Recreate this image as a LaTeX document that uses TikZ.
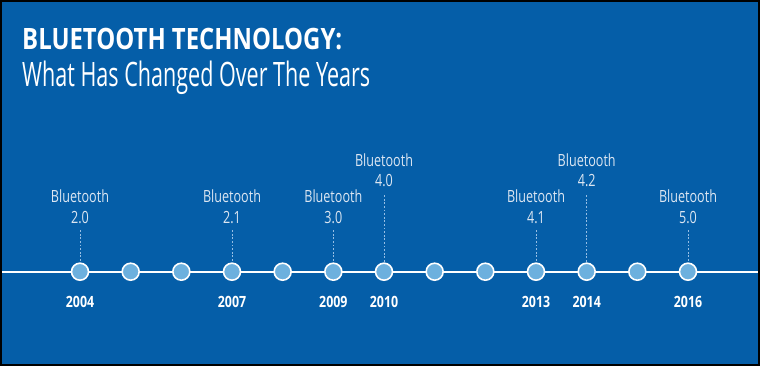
\documentclass[tikz,border=0pt]{standalone}
\usepackage{fontspec}
\usepackage{graphicx}
\setmainfont{Open Sans}
\newfontfamily\labfont{Open Sans}[FakeStretch=0.75]
\newfontfamily\yearfont{Open Sans}[FakeStretch=0.8]
\definecolor{bg}{RGB}{5,94,168}
\definecolor{dotblue}{RGB}{108,176,222}
\definecolor{labcol}{RGB}{220,230,242}
\definecolor{dashcol}{RGB}{150,190,228}
\newcommand\fitbox[4]{\setbox0=\hbox{#3#4}\setbox2=\hbox{#3H}\ht0=\ht2 \dp0=0pt \resizebox{#1}{#2}{\box0}}
\tikzset{
  dot/.style={circle, minimum size=17pt, inner sep=0pt, fill=dotblue, draw=white, line width=1.6pt},
  timeline/.style={draw=white, line width=2pt},
  lab/.style={anchor=base, inner sep=0pt, text=labcol, font=\labfont\fontsize{16.8}{18}\selectfont},
  yearlab/.style={anchor=base, inner sep=0pt, text=white, font=\yearfont\bfseries\fontsize{15.5}{17}\selectfont},
  dashline/.style={draw=dashcol, line width=0.7pt, dash pattern=on 1.8pt off 1.8pt},
}
\begin{document}
\begin{tikzpicture}[x=1pt,y=-1pt]
\useasboundingbox (0,0) rectangle (760,366);
\fill[black] (0,0) rectangle (760,366);
\fill[bg] (2,2) rectangle (758,364);
\node[anchor=base west, inner sep=0pt, text=white] (title) at (22,50) {\fitbox{320pt}{21pt}{\bfseries}{BLUETOOTH TECHNOLOGY:}};
\node[anchor=base west, inner sep=0pt, text=white] (sub) at (22,87) {\fitbox{348pt}{24pt}{}{What Has Changed Over The Years}};
\coordinate (L) at (2,271.7);
\coordinate (R) at (758,271.7);
\draw[timeline] (L) -- (R);
\foreach \i in {0,...,12} {
  \node[dot] (c\i) at ({80+50.667*\i},271.7) {};
}
\foreach \i/\v/\yr in {0/2.0/2004, 3/2.1/2007, 5/3.0/2009, 9/4.1/2013, 12/5.0/2016} {
  \path (c\i.center) ++(0,-69) node[lab] (b\i) {Bluetooth};
  \path (c\i.center) ++(0,-48.5) node[lab] (v\i) {\v};
  \path (c\i.center) ++(0,-41.5) coordinate (d\i);
  \draw[dashline] (d\i) -- (c\i.north);
  \path (c\i.center) ++(0,35.8) node[yearlab] (y\i) {\yr};
}
\foreach \i/\v/\yr in {6/4.0/2010, 10/4.2/2014} {
  \path (c\i.center) ++(0,-105.5) node[lab] (b\i) {Bluetooth};
  \path (c\i.center) ++(0,-85) node[lab] (v\i) {\v};
  \path (c\i.center) ++(0,-76.5) coordinate (d\i);
  \draw[dashline] (d\i) -- (c\i.north);
  \path (c\i.center) ++(0,35.8) node[yearlab] (y\i) {\yr};
}
\end{tikzpicture}
\end{document}
